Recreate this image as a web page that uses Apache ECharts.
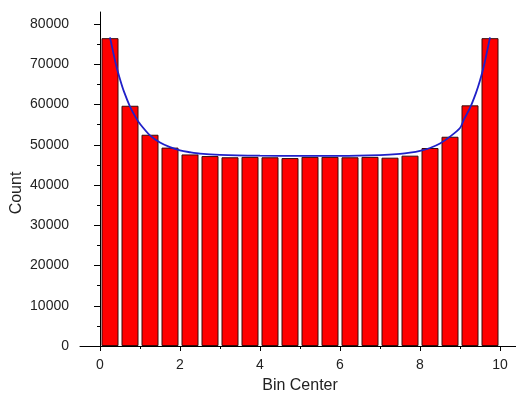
<!DOCTYPE html>
<html>
<head>
<meta charset="utf-8">
<script src="https://cdn.jsdelivr.net/npm/echarts@6/dist/echarts.min.js"></script>
<style>
html,body{margin:0;padding:0;background:#fff;}
#chart{width:516px;height:394px;}
</style>
</head>
<body>
<div id="chart"></div>
<script>
const binCenters = [0.25,0.75,1.25,1.75,2.25,2.75,3.25,3.75,4.25,4.75,5.25,5.75,6.25,6.75,7.25,7.75,8.25,8.75,9.25,9.75];
const counts = [76500,59700,52500,49300,47600,47200,46900,47000,46900,46700,47000,47000,46900,47000,46800,47300,49200,52000,59800,76500];
const fitX = [0.25,0.4,0.5,0.6,0.75,0.9,1.0,1.25,1.5,1.75,2.0,2.25,2.5,3.0,4.0,5.0,6.0,7.0,7.5,7.75,8.0,8.25,8.5,8.75,9.0,9.1,9.25,9.4,9.5,9.6,9.75];
const fitY = [76700,69900,66300,63200,59500,56700,55200,52350,50550,49400,48600,48150,47800,47500,47300,47250,47250,47450,47750,48050,48500,49200,50300,52030,54170,56300,59150,62900,65950,69700,76700];
const xMajorTicks = [0,2,4,6,8,10];
const xMinorTicks = [1,3,5,7,9];
const yMajorTicks = [0,10000,20000,30000,40000,50000,60000,70000,80000];
const yMinorTicks = [5000,15000,25000,35000,45000,55000,65000,75000];

const font = 'Liberation Sans, Arial, sans-serif';
const chart = echarts.init(document.getElementById('chart'), null, {renderer:'canvas'});
const axisLine = {show:true, lineStyle:{color:'#000', width:1}};
chart.setOption({
  animation:false,
  grid:{left:80, right:0, top:12, bottom:48, containLabel:false},
  xAxis:[{
    type:'value', min:-0.5, max:10.4,
    axisLine:axisLine,
    axisTick:{show:true, customValues:xMajorTicks, length:5, lineStyle:{color:'#000'}},
    axisLabel:{show:true, customValues:xMajorTicks, margin:12, color:'#222', fontSize:14, fontFamily:font,
      formatter:v=>String(v)},
    splitLine:{show:false}
  },{
    type:'value', min:-0.5, max:10.4, position:'bottom',
    axisLine:{show:false},
    axisTick:{show:true, customValues:xMinorTicks, length:3, lineStyle:{color:'#000'}},
    axisLabel:{show:false},
    splitLine:{show:false}
  }],
  yAxis:[{
    type:'value', min:0, max:83000,
    axisLine:axisLine,
    axisTick:{show:true, customValues:yMajorTicks, length:6, lineStyle:{color:'#000'}},
    axisLabel:{show:true, customValues:yMajorTicks, margin:11, color:'#222', fontSize:14, fontFamily:font,
      formatter:v=>String(v)},
    splitLine:{show:false}
  },{
    type:'value', min:0, max:83000, position:'left',
    axisLine:{show:false},
    axisTick:{show:true, customValues:yMinorTicks, length:3, lineStyle:{color:'#000'}},
    axisLabel:{show:false},
    splitLine:{show:false}
  }],
  series:[{
    type:'bar',
    xAxisIndex:0, yAxisIndex:0,
    barWidth:17,
    data:binCenters.map((x,i)=>[x,counts[i]]),
    itemStyle:{color:'#ff0000', borderColor:'#3a0a0a', borderWidth:1}
  },{
    type:'line',
    xAxisIndex:0, yAxisIndex:0,
    data:fitX.map((x,i)=>[x,fitY[i]]),
    smooth:0.3,
    showSymbol:false,
    lineStyle:{color:'#2020c8', width:1.8}
  }],
  graphic:[
    {type:'text', x:17, y:193, rotation:Math.PI/2,
     style:{text:'Count', align:'center', verticalAlign:'middle', font:'16px '+font, fill:'#222'}},
    {type:'text', x:300, y:386,
     style:{text:'Bin Center', align:'center', verticalAlign:'middle', font:'16px '+font, fill:'#222'}}
  ]
});
</script>
</body>
</html>
